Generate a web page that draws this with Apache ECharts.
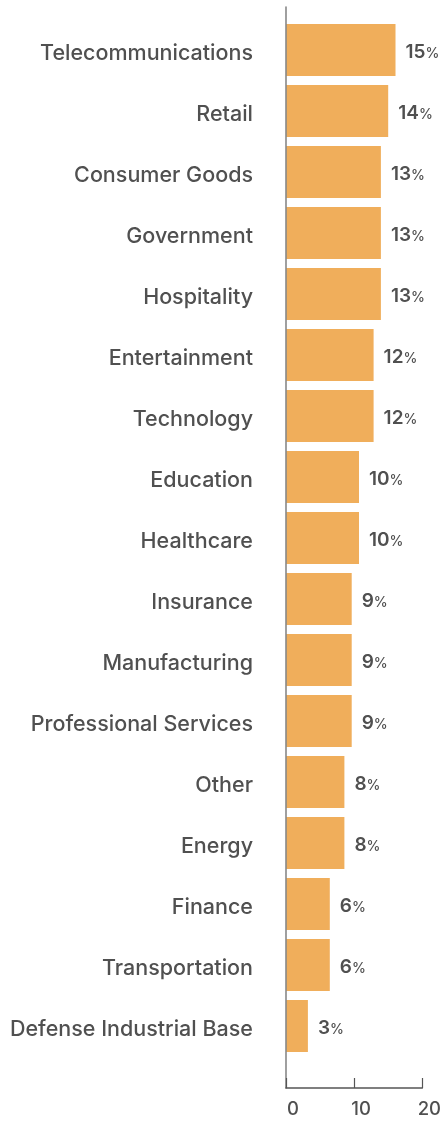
<!DOCTYPE html>
<html>
<head>
<meta charset="utf-8">
<script src="https://cdn.jsdelivr.net/npm/echarts@6/dist/echarts.min.js"></script>
<style>
  html, body { margin: 0; padding: 0; background: #fff; }
  #chart { width: 444px; height: 1124px; }
</style>
</head>
<body>
<div id="chart"></div>
<script>
// Share of incidents by sector (%)
const sectors = [
  'Telecommunications', 'Retail', 'Consumer Goods', 'Government', 'Hospitality',
  'Entertainment', 'Technology', 'Education', 'Healthcare', 'Insurance',
  'Manufacturing', 'Professional Services', 'Other', 'Energy', 'Finance',
  'Transportation', 'Defense Industrial Base'
];
const shares = [15, 14, 13, 13, 13, 12, 12, 10, 10, 9, 9, 9, 8, 8, 6, 6, 3];
const xTicks = [0, 10, 20];

const FONT = 'Inter, "Liberation Sans", Arial, sans-serif';
const TEXT = '#505050';
const BAR = '#F0AE5B';

const chart = echarts.init(document.getElementById('chart'), null, { renderer: 'canvas' });

chart.setOption({
  animation: false,
  backgroundColor: '#ffffff',
  textStyle: { fontFamily: FONT },
  grid: [
    // bars and category labels
    { left: 286, right: 12, top: 19.5, bottom: 67.5 },
    // frame: bottom value axis and left axis line
    { left: 286, right: 12, top: 7, bottom: 36 }
  ],
  xAxis: [
    {
      gridIndex: 0, type: 'value', min: xTicks[0], max: xTicks[xTicks.length - 1],
      show: false
    },
    {
      gridIndex: 1, type: 'value', min: xTicks[0], max: xTicks[xTicks.length - 1],
      interval: xTicks[1] - xTicks[0],
      axisLine: { show: true, lineStyle: { color: '#555555', width: 1.5 } },
      axisTick: { show: true, inside: true, length: 10, lineStyle: { color: '#555555', width: 1.2 } },
      axisLabel: {
        color: TEXT, fontSize: 18.5, fontFamily: FONT, fontWeight: 500, margin: 12,
        padding: [0, 0, 0, 14]
      },
      splitLine: { show: false },
      z: 5
    }
  ],
  yAxis: [
    {
      gridIndex: 0, type: 'category', data: sectors, inverse: true,
      axisLine: { show: false },
      axisTick: { show: false },
      axisLabel: {
        margin: 33,
        formatter: v => '{c|' + v + '}',
        rich: {
          c: {
            color: TEXT, fontSize: 21.5, fontFamily: FONT, fontWeight: 500,
            padding: [8, 0, 0, 0]
          }
        }
      }
    },
    {
      gridIndex: 1, type: 'value', min: 0, max: 1,
      axisLine: { show: true, lineStyle: { color: '#888888', width: 1.6 } },
      axisTick: { show: false },
      axisLabel: { show: false },
      splitLine: { show: false },
      z: 5
    }
  ],
  series: [
    {
      type: 'bar',
      xAxisIndex: 0,
      yAxisIndex: 0,
      data: shares,
      barWidth: 52,
      itemStyle: { color: BAR },
      label: {
        show: true,
        position: 'right',
        distance: 10,
        padding: [5, 0, 0, 0],
        formatter: p => '{v|' + p.value + '}{p|%}',
        rich: {
          v: { color: TEXT, fontSize: 19, fontFamily: FONT, fontWeight: 600 },
          p: { color: TEXT, fontSize: 14, fontFamily: FONT, fontWeight: 500, padding: [2, 0, 0, 0] }
        }
      }
    }
  ]
});
</script>
</body>
</html>
